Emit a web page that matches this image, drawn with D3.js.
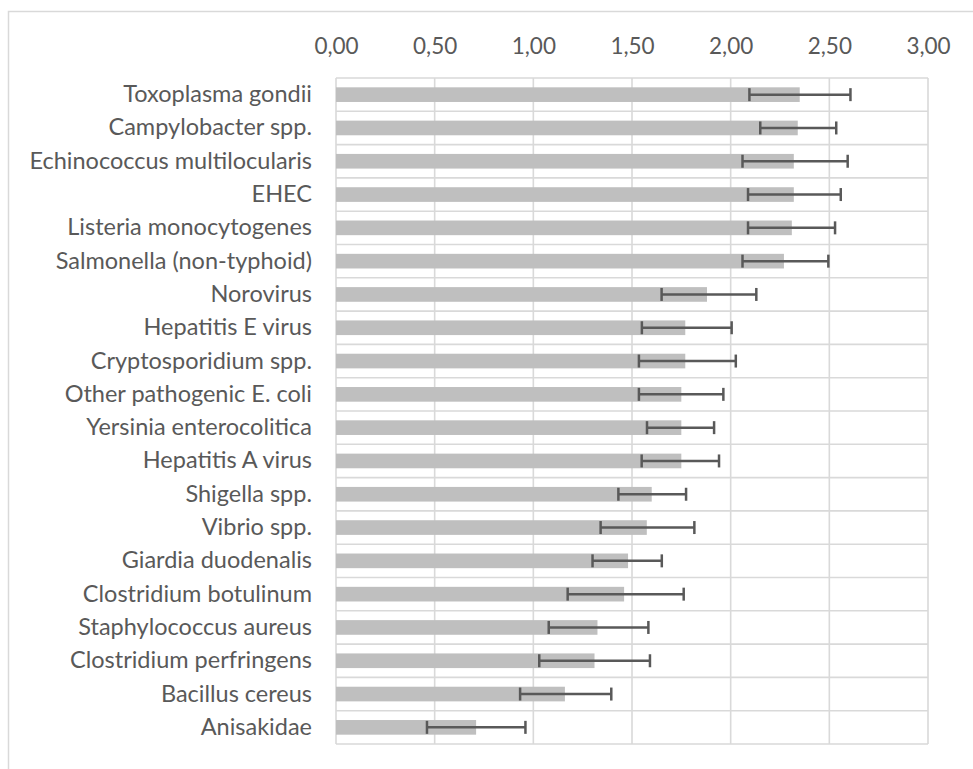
<!DOCTYPE html>
<html>
<head>
<meta charset="utf-8">
<script src="https://cdn.jsdelivr.net/npm/d3@7"></script>
<style>
  body { margin: 0; background: #fff; }
  svg { display: block; }
  text { font-family: Lato, "Noto Sans", sans-serif; fill: #595959; }
</style>
</head>
<body>
<svg width="973" height="769"></svg>
<script>
// pathogens, top to bottom
var pathogens = ["Toxoplasma gondii", "Campylobacter spp.", "Echinococcus multilocularis", "EHEC",
  "Listeria monocytogenes", "Salmonella (non-typhoid)", "Norovirus", "Hepatitis E virus",
  "Cryptosporidium spp.", "Other pathogenic E. coli", "Yersinia enterocolitica", "Hepatitis A virus",
  "Shigella spp.", "Vibrio spp.", "Giardia duodenalis", "Clostridium botulinum",
  "Staphylococcus aureus", "Clostridium perfringens", "Bacillus cereus", "Anisakidae"];
var means = [2.35, 2.34, 2.32, 2.32, 2.31, 2.27, 1.88, 1.77, 1.77, 1.75,
  1.75, 1.75, 1.60, 1.575, 1.48, 1.46, 1.325, 1.31, 1.16, 0.71];
var lower = [2.095, 2.15, 2.06, 2.088, 2.088, 2.06, 1.65, 1.55, 1.535, 1.535,
  1.576, 1.549, 1.431, 1.341, 1.30, 1.174, 1.078, 1.03, 0.933, 0.461];
var upper = [2.607, 2.535, 2.593, 2.558, 2.529, 2.495, 2.13, 2.005, 2.026, 1.963,
  1.916, 1.941, 1.774, 1.816, 1.651, 1.762, 1.583, 1.591, 1.395, 0.96];
var ticks = [0, 0.5, 1, 1.5, 2, 2.5, 3];

var svg = d3.select("svg");
var margin = {left: 336, right: 45, top: 78, bottom: 25};
var width = +svg.attr("width"), height = +svg.attr("height");

// chart border (only left/top visible in the picture)
svg.append("rect")
  .attr("x", 8.5).attr("y", 11.5)
  .attr("width", 1000).attr("height", 1000)
  .attr("fill", "none").attr("stroke", "#d9d9d9").attr("stroke-width", 1.5);

var x = d3.scaleLinear().domain([0, 3]).range([margin.left, width - margin.right]);
var y = d3.scaleBand().domain(pathogens)
  .range([margin.top, height - margin.bottom]).paddingInner(0.56).paddingOuter(0.28);

var rowH = (y.range()[1] - y.range()[0]) / pathogens.length;
var g = svg.append("g");

// vertical gridlines
g.selectAll(".vgrid").data(ticks).enter().append("line")
  .attr("x1", d => x(d)).attr("x2", d => x(d))
  .attr("y1", margin.top).attr("y2", height - margin.bottom)
  .attr("stroke", "#d9d9d9").attr("stroke-width", 1.6);

// horizontal gridlines between categories
g.selectAll(".hgrid").data(d3.range(pathogens.length + 1)).enter().append("line")
  .attr("x1", x(0)).attr("x2", x(3))
  .attr("y1", d => margin.top + d * rowH).attr("y2", d => margin.top + d * rowH)
  .attr("stroke", "#d9d9d9").attr("stroke-width", 1.6);

// top axis labels
var fmt = d3.format(".2f");
var xAxis = d3.axisTop(x).tickValues(ticks).tickSize(0).tickPadding(0)
  .tickFormat(d => fmt(d).replace(".", ","));
var ax = svg.append("g").attr("transform", "translate(0,54)").call(xAxis);
ax.select(".domain").remove();
ax.selectAll("text").attr("font-size", 22.5).attr("fill", "#595959")
  .style("font-family", "Lato, 'Noto Sans', sans-serif");

// category labels
var yAxis = d3.axisLeft(y).tickSize(0).tickPadding(24);
var ay = svg.append("g").attr("transform", "translate(" + margin.left + ",0)").call(yAxis);
ay.select(".domain").remove();
ay.selectAll("text").attr("font-size", 23.5).attr("fill", "#595959")
  .style("font-family", "Lato, 'Noto Sans', sans-serif");

// bars
g.selectAll(".bar").data(pathogens).enter().append("rect")
  .attr("x", x(0))
  .attr("y", d => y(d))
  .attr("width", (d, i) => x(means[i]) - x(0))
  .attr("height", y.bandwidth())
  .attr("fill", "#bfbfbf");

// error bars
var eb = g.selectAll(".err").data(pathogens).enter().append("g")
  .attr("transform", d => "translate(0," + (y(d) + y.bandwidth() / 2) + ")");
eb.append("line")
  .attr("x1", (d, i) => x(lower[i])).attr("x2", (d, i) => x(upper[i]))
  .attr("stroke", "#595959").attr("stroke-width", 2.5);
eb.append("line")
  .attr("x1", (d, i) => x(lower[i])).attr("x2", (d, i) => x(lower[i]))
  .attr("y1", -6.5).attr("y2", 6.5)
  .attr("stroke", "#595959").attr("stroke-width", 2.5);
eb.append("line")
  .attr("x1", (d, i) => x(upper[i])).attr("x2", (d, i) => x(upper[i]))
  .attr("y1", -6.5).attr("y2", 6.5)
  .attr("stroke", "#595959").attr("stroke-width", 2.5);
</script>
</body>
</html>
